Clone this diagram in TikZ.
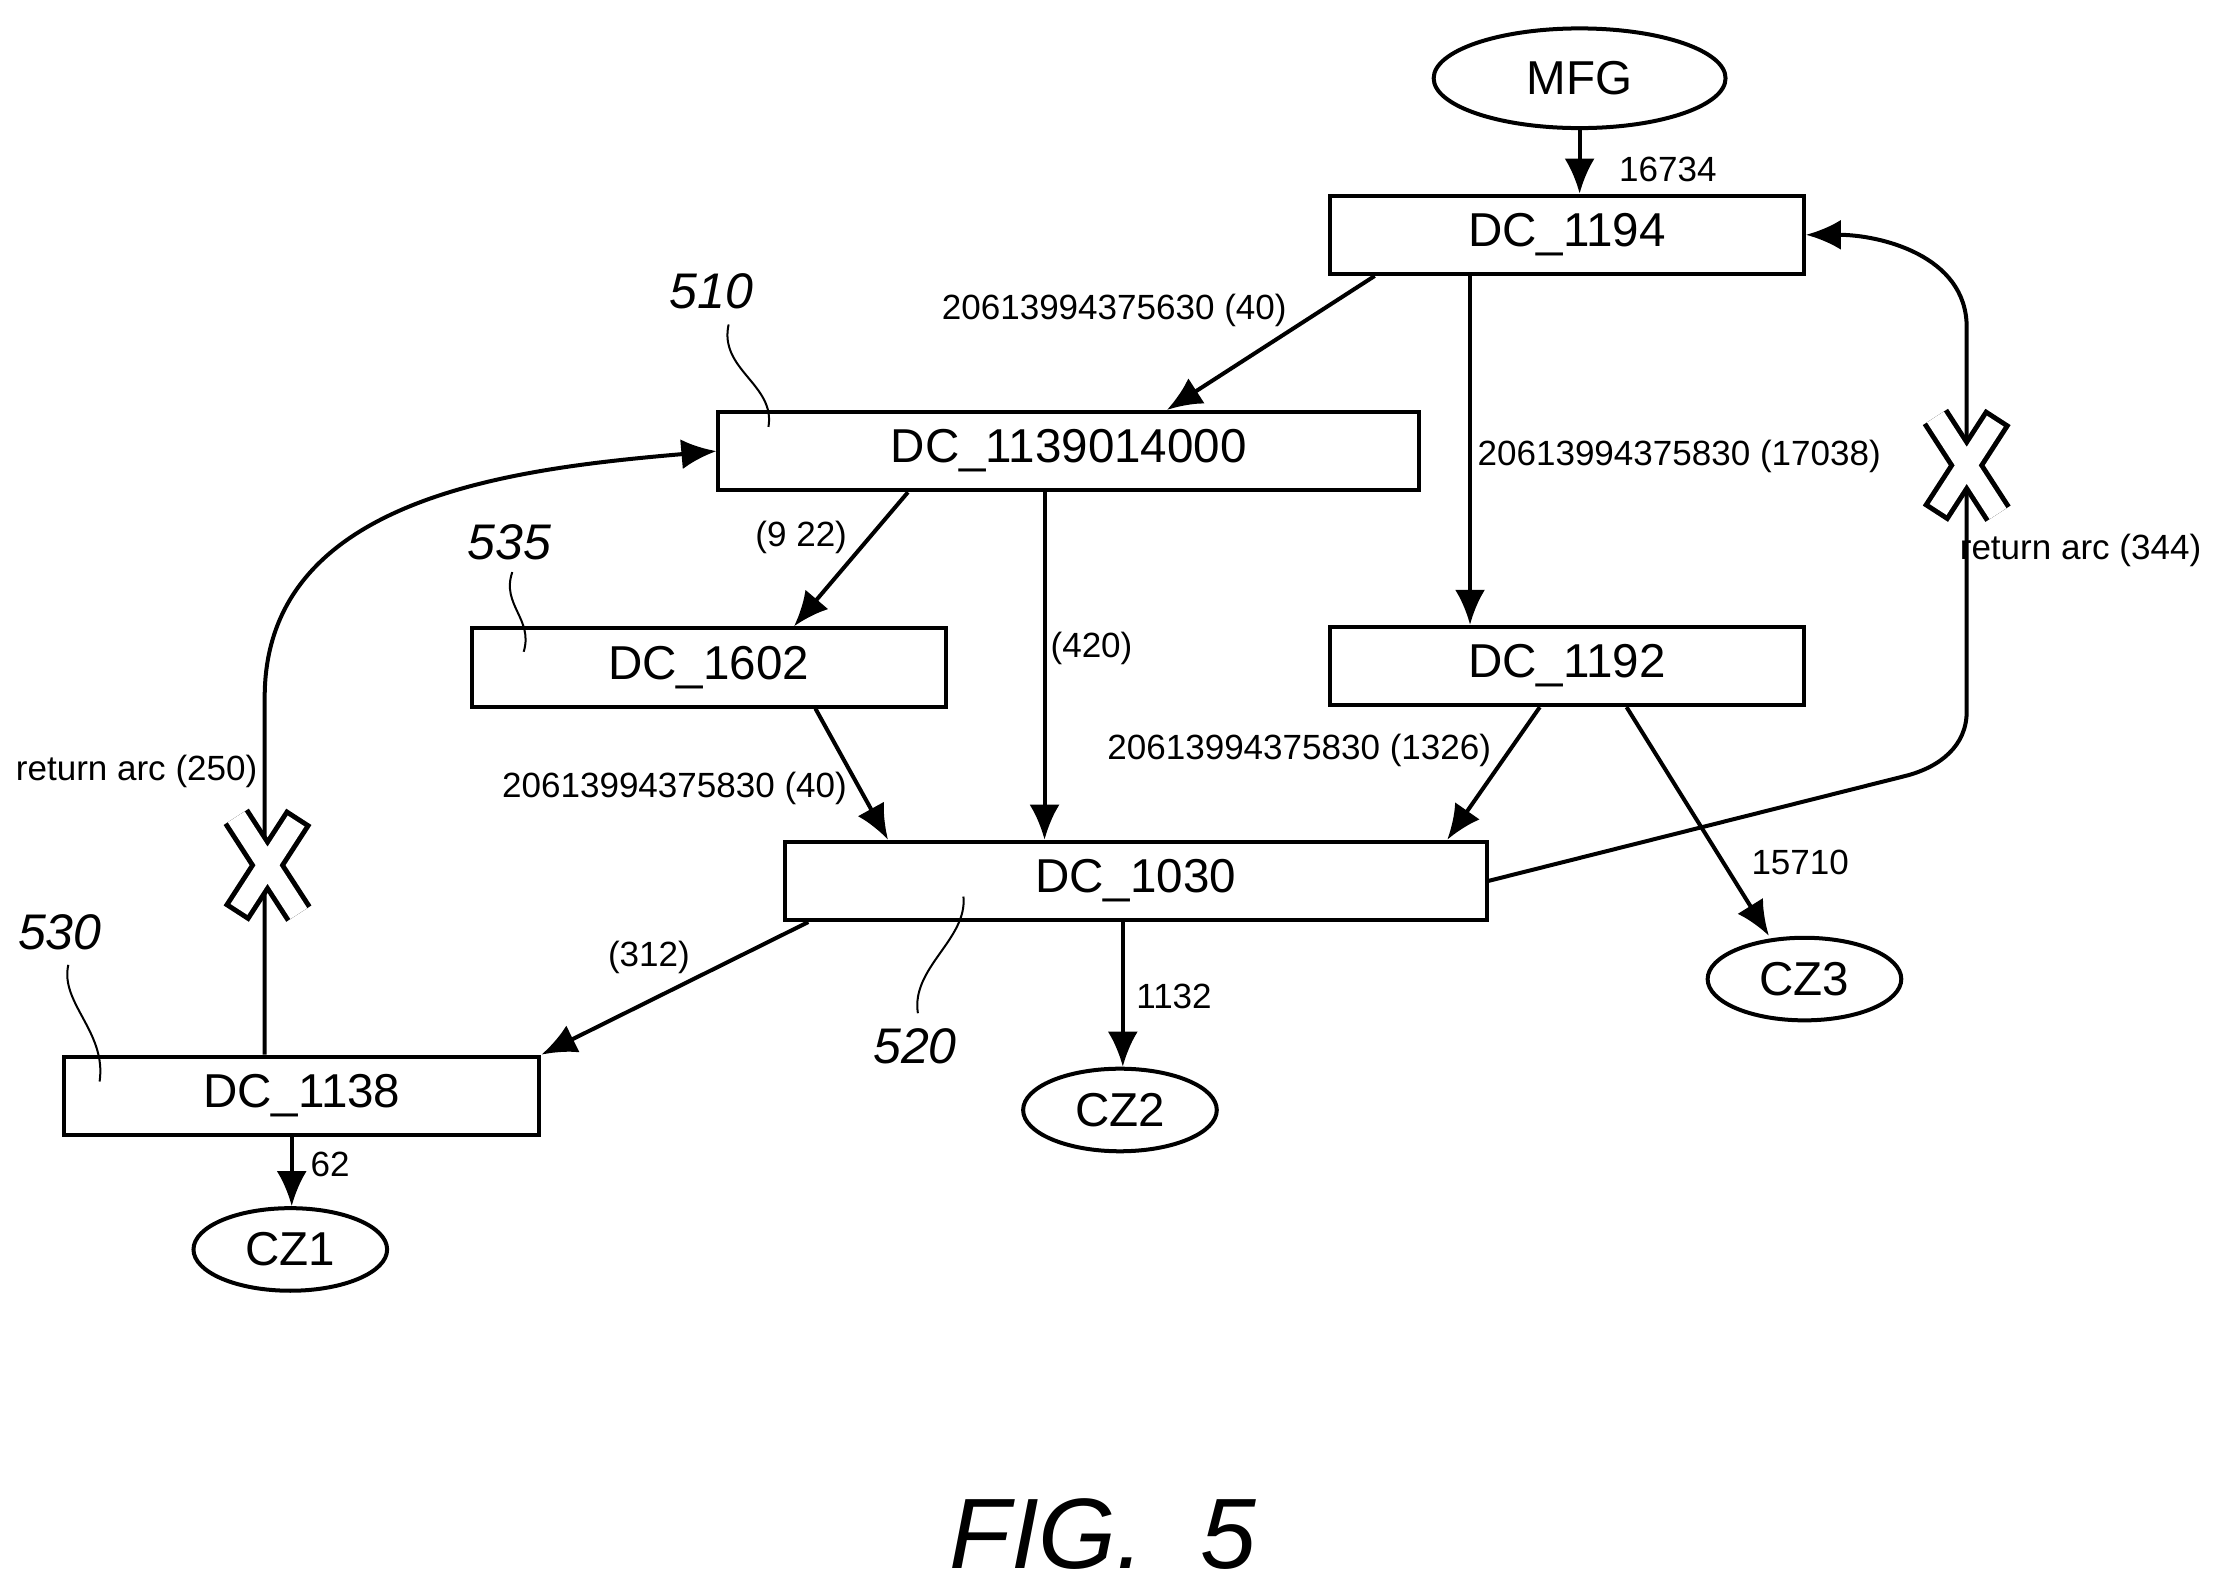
\documentclass[tikz,border=0pt]{standalone}
\usepackage{fontspec}
\setmainfont{Liberation Sans}
\usetikzlibrary{shapes.geometric,arrows.meta}
\begin{document}
\begin{tikzpicture}[x=0.01cm,y=-0.01cm,
  dc/.style={draw,thick,minimum height=0.55cm,font=\fontsize{9.5}{9.5}\selectfont,inner sep=0pt},
  cz/.style={draw,thick,ellipse,minimum width=1.36cm,minimum height=0.58cm,font=\fontsize{9.5}{9.5}\selectfont,inner sep=0pt},
  arr/.style={-{Latex[length=7pt,width=6pt]},thick},
  lbl/.style={font=\fontsize{7}{7}\selectfont},
  ref/.style={font=\itshape\fontsize{10}{10}\selectfont}]
\useasboundingbox (0,0) rectangle (1560,1113);
% nodes
\node[cz,minimum width=2.05cm,minimum height=0.7cm] (mfg) at (1110,55) {MFG};
\node[dc,minimum width=3.33cm] (dc1194) at (1101,165) {DC\_1194};
\node[dc,minimum width=4.92cm] (dc1139) at (751,317) {DC\_1139014000};
\node[dc,minimum width=3.33cm] (dc1602) at (498,469) {DC\_1602};
\node[dc,minimum width=3.33cm] (dc1192) at (1101,468) {DC\_1192};
\node[dc,minimum width=4.93cm] (dc1030) at (798,619) {DC\_1030};
\node[dc,minimum width=3.34cm] (dc1138) at (212,770) {DC\_1138};
\node[cz] (cz1) at (204,878) {CZ1};
\node[cz] (cz2) at (787,780) {CZ2};
\node[cz] (cz3) at (1268,688) {CZ3};
% edges
\draw[arr] (mfg.south -| 1110,0) -- (dc1194.north -| 1110,0);
\node[lbl] at (1172,119) {16734};
\draw[arr] (dc1194.south -| 966,0) -- (dc1139.north -| 820,0);
\node[lbl] at (783,218) {20613994375630 (40)};
\draw[arr] (dc1194.south -| 1033,0) -- (dc1192.north -| 1033,0);
\node[lbl] at (1180,321) {20613994375830 (17038)};
\draw[arr] (dc1139.south -| 638,0) -- (dc1602.north -| 558,0);
\node[lbl] at (563,378) {(9 22)};
\draw[arr] (dc1139.south -| 734,0) -- (dc1030.north -| 734,0);
\node[lbl] at (767,456) {(420)};
\draw[arr] (dc1602.south -| 573,0) -- (dc1030.north -| 624,0);
\node[lbl] at (474,554) {20613994375830 (40)};
\draw[arr] (dc1192.south -| 1082,0) -- (dc1030.north -| 1017,0);
\node[lbl] at (913,527) {20613994375830 (1326)};
\draw[arr] (dc1192.south -| 1143,0) -- (cz3.north -| 1243,0);
\node[lbl] at (1265,606) {15710};
\draw[arr] (dc1030.south -| 568,0) -- (dc1138.north east);
\node[lbl] at (456,673) {(312)};
\draw[arr] (dc1030.south -| 789,0) -- (cz2.north -| 789,0);
\node[lbl] at (825,700) {1132};
\draw[arr] (dc1138.south -| 205,0) -- (cz1.north -| 205,0);
\node[lbl] at (232,818) {62};
% return arcs
\draw[arr] (dc1030.east) -- (1340,545) to[out=15,in=-90] (1382,500) -- (1382,230)
  to[out=90,in=0] (dc1194.east);
\node[lbl] at (1462,387) {return arc (344)};
\draw[arr] (dc1138.north -| 186,0) -- (186,490) to[out=90,in=185] (dc1139.west);
\node[lbl] at (96,542) {return arc (250)};
% crosses
\foreach \cx/\cy in {1382/327, 188/608}
  {\draw[line width=6pt,line cap=butt] (\cx-22,\cy-34) -- (\cx+22,\cy+34)
     (\cx+22,\cy-34) -- (\cx-22,\cy+34);
   \draw[line width=4pt,white,shorten <=1pt,shorten >=1pt] (\cx-22,\cy-34) -- (\cx+22,\cy+34)
     (\cx+22,\cy-34) -- (\cx-22,\cy+34);}
% reference numerals
\node[ref] at (500,205) {510};
\draw (512,228) .. controls (505,260) and (545,270) .. (540,300);
\node[ref] at (358,381) {535};
\draw (360,402) .. controls (352,425) and (375,435) .. (368,458);
\node[ref] at (42,655) {530};
\draw (48,678) .. controls (42,705) and (75,725) .. (70,760);
\node[ref] at (643,735) {520};
\draw (645,712) .. controls (640,680) and (680,660) .. (677,630);
\node[font=\itshape\fontsize{20}{20}\selectfont] at (775,1078) {FIG.\ \ 5};
\end{tikzpicture}
\end{document}
